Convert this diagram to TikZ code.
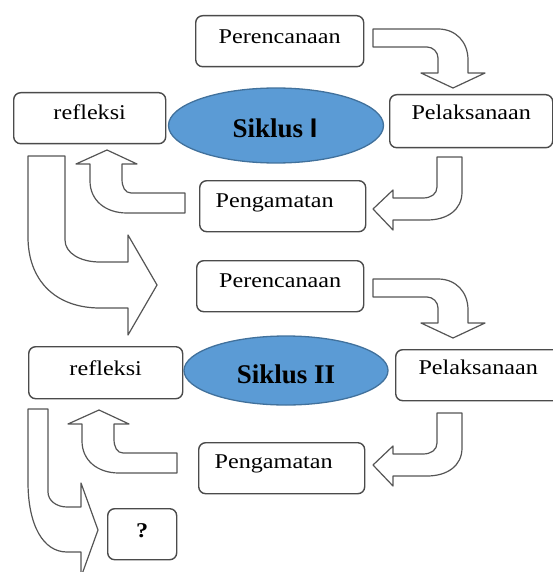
\documentclass[tikz,border=0pt]{standalone}
\usepackage{fontspec}
\usepackage{graphicx}
\setmainfont{Liberation Serif}
\newfontfamily\barfont{Liberation Sans}
\usetikzlibrary{shapes.geometric}
\definecolor{ellfill}{RGB}{91,155,213}
\definecolor{elldraw}{RGB}{65,113,156}
\definecolor{boxline}{RGB}{75,75,75}
\definecolor{arrline}{RGB}{85,85,85}
\newcommand{\sx}[1]{\scalebox{1.15}[1]{#1}}
\begin{document}
\begin{tikzpicture}[x=1pt,y=-1pt,
  boxnode/.style={draw=boxline, line width=1.4pt, rounded corners=7pt, fill=white,
    inner sep=0pt, anchor=north west, font=\fontsize{21}{25}\selectfont},
  ellnode/.style={ellipse, draw=elldraw, fill=ellfill, line width=1.3pt, inner sep=0pt},
  elltext/.style={anchor=base, inner sep=0pt, font=\bfseries\fontsize{27}{31}\selectfont},
  blockarrow/.style={draw=arrline, line width=1.2pt, fill=white, line join=round},
  arrA/.pic={\draw[blockarrow] (373,29) -- (438,29) .. controls (456,29) and (468,42) .. (468,60)
     -- (468,73) -- (485,73) -- (453,88) -- (421,73) -- (438,73) -- (438,58)
     .. controls (438,52) and (433,47) .. (427,47) -- (373,47) -- cycle;},
  arrB/.pic={\draw[blockarrow] (437,157) -- (462,157) -- (462,192)
     .. controls (462,210) and (447,220) .. (427,220) -- (393,220) -- (393,230) -- (373,209)
     -- (393,190) -- (393,198) -- (423,198) .. controls (431,198) and (437,194) .. (437,187) -- cycle;},
  arrC/.pic={\draw[blockarrow] (185,193) -- (131,193) .. controls (125,193) and (122,187) .. (122,179)
     -- (122,164) -- (137,164) -- (107,150) -- (76,164) -- (90,164) -- (90,181)
     .. controls (90,200) and (105,213) .. (127,213) -- (185,213) -- cycle;}
]
\useasboundingbox (0,0) rectangle (553,572);
\clip (0,0) rectangle (553,572);

% block arrows
\pic at (0,0) {arrA};
\pic at (0,250) {arrA};
\pic at (0,0) {arrB};
\pic at (0,256) {arrB};
\pic at (0,0) {arrC};
\pic at (-8,260) {arrC};
\draw[blockarrow] (28,156) -- (65,156) -- (65,240) .. controls (65,253) and (80,262) .. (100,262)
  -- (128,262) -- (128,235) -- (157,285) -- (128,335) -- (128,308) -- (100,308)
  .. controls (55,308) and (28,280) .. (28,237) -- cycle;
\draw[blockarrow] (28,409) -- (48,409) -- (48,492) .. controls (48,501) and (57,507) .. (67,507)
  -- (81,507) -- (81,483) -- (98,530) -- (81,577) -- (81,552) -- (67,552)
  .. controls (43,552) and (28,525) .. (28,482) -- cycle;

% boxes, cycle I
\node[boxnode, minimum width=168pt, minimum height=51pt, text height=28pt, text depth=23pt] (per1) at (195,15) {\sx{Perencanaan}};
\node[boxnode, minimum width=152pt, minimum height=51pt, text height=27pt, text depth=24pt] (ref1) at (13,92) {\sx{refleksi}};
\node[boxnode, minimum width=163pt, minimum height=53pt, text height=25pt, text depth=28pt] (pel1) at (389,94) {\sx{Pelaksanaan}};
\node[boxnode, minimum width=166pt, minimum height=51pt, text height=27pt, text depth=24pt] (pen1) at (199,180) {\sx{Pengamatan}\hspace*{16pt}};

% boxes, cycle II
\node[boxnode, minimum width=167pt, minimum height=51pt, text height=27pt, text depth=24pt] (per2) at (196,260) {\sx{Perencanaan}};
\node[boxnode, minimum width=154pt, minimum height=52pt, text height=29pt, text depth=23pt] (ref2) at (28,346) {\sx{refleksi}};
\node[boxnode, minimum width=165pt, minimum height=51pt, text height=25pt, text depth=26pt] (pel2) at (395,349) {\sx{Pelaksanaan}};
\node[boxnode, minimum width=166pt, minimum height=51pt, text height=26pt, text depth=25pt] (pen2) at (198,442) {\sx{Pengamatan}\hspace*{16pt}};
\node[boxnode, minimum width=69pt, minimum height=51pt, text height=29pt, text depth=22pt] (q) at (107,508) {\sx{\bfseries ?}};

% ellipses
\node[ellnode, minimum width=215pt, minimum height=75pt] (sik1) at (276,125.5) {};
\node[elltext] (sik1t) at (275,138) {Siklus {\barfont I}};
\node[ellnode, minimum width=204pt, minimum height=69pt] (sik2) at (286,370.5) {};
\node[elltext] (sik2t) at (286,383) {Siklus II};
\end{tikzpicture}
\end{document}
